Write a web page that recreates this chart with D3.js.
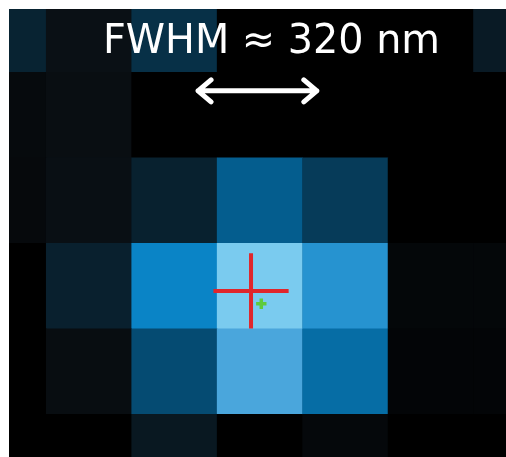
<!DOCTYPE html>
<html>
<head>
<meta charset="utf-8">
<script src="https://cdn.jsdelivr.net/npm/d3@7"></script>
<style>
  body { margin: 0; background: #fff; }
</style>
</head>
<body>
<div id="psf"></div>
<script>
// pixel intensities of the camera image (rows top to bottom, cols left to right)
const rows = [0, 1, 2, 3, 4, 5];
const cols = [0, 1, 2, 3, 4, 5, 6];
const intensity = [
  [0.18, 0.08, 0.25, 0, 0, 0, 0.135],
  [0.05, 0.07, 0, 0, 0, 0, 0],
  [0.045, 0.075, 0.17, 0.45, 0.3, 0, 0],
  [0, 0.165, 0.62, 1.0, 0.7, 0.035, 0.035],
  [0, 0.065, 0.37, 0.8, 0.52, 0.025, 0.025],
  [0, 0, 0.12, 0, 0.04, 0, 0]
];
// fitted centre (red) and centroid (green), in pixel units
const fitCentre = [3.40, 3.56];
const centroid = [3.52, 3.71];
// FWHM arrow span in pixel units
const fwhmSpan = [2.78, 4.17];
const label = "FWHM \u2248 320 nm";

const width = 506, height = 457;
const margin = { top: 9, left: 9 };

const svg = d3.select("#psf")
  .append("svg")
  .attr("width", width)
  .attr("height", height);

// image area clip
svg.append("clipPath").attr("id", "img")
  .append("rect")
  .attr("x", margin.left).attr("y", margin.top)
  .attr("width", width - margin.left).attr("height", height - margin.top);

// soft glow for the white annotations
const glow = svg.append("filter").attr("id", "glow");
glow.append("feGaussianBlur").attr("stdDeviation", 0.6);

const g = svg.append("g").attr("clip-path", "url(#img)");

// x / y in pixel units
const x = d3.scaleLinear().domain([0, cols.length]).range([-39.5, -39.5 + 85.45 * cols.length]);
const y = d3.scaleLinear().domain([0, rows.length]).range([-13.5, -13.5 + 85.5 * rows.length]);

const color = d3.scaleLinear()
  .domain([0, 0.08, 0.25, 0.45, 0.62, 0.8, 1])
  .range(["#000000", "#0a1015", "#073047", "#045d8e", "#0a84c6", "#4aa6dc", "#7acbef"])
  .interpolate(d3.interpolateRgb);

const cells = [];
rows.forEach(r => cols.forEach(c => cells.push({ r, c, v: intensity[r][c] })));

g.append("rect")
  .attr("x", margin.left).attr("y", margin.top)
  .attr("width", width).attr("height", height)
  .attr("fill", "#000");

g.selectAll("rect.cell")
  .data(cells)
  .enter()
  .append("rect")
  .attr("class", "cell")
  .attr("x", d => x(d.c))
  .attr("y", d => y(d.r))
  .attr("width", d => x(d.c + 1) - x(d.c) + 0.5)
  .attr("height", d => y(d.r + 1) - y(d.r) + 0.5)
  .attr("fill", d => color(d.v));

// red cross
const arm = 0.44;
g.append("path")
  .attr("d", `M${x(fitCentre[0] - arm)},${y(fitCentre[1])}H${x(fitCentre[0] + arm)}` +
             `M${x(fitCentre[0])},${y(fitCentre[1] - arm)}V${y(fitCentre[1] + arm)}`)
  .attr("stroke", "#e0262b")
  .attr("stroke-width", 4)
  .attr("fill", "none");

// green marker
g.append("path")
  .attr("d", d3.symbol().type(d3.symbolCross).size(60)())
  .attr("transform", `translate(${x(centroid[0])},${y(centroid[1])})`)
  .attr("fill", "#5ecb3c");

// FWHM arrow
const ay = y(1.22), ax0 = x(fwhmSpan[0]), ax1 = x(fwhmSpan[1]);
g.append("path")
  .attr("d", `M${ax0},${ay}H${ax1}` +
             `M${ax0 + 13},${ay - 11}L${ax0},${ay}L${ax0 + 13},${ay + 11}` +
             `M${ax1 - 13},${ay - 11}L${ax1},${ay}L${ax1 - 13},${ay + 11}`)
  .attr("stroke", "#fff")
  .attr("stroke-width", 5)
  .attr("stroke-linecap", "round")
  .attr("stroke-linejoin", "round")
  .attr("fill", "none")
  .attr("filter", "url(#glow)");

g.append("text")
  .attr("x", 271.5)
  .attr("y", 53)
  .attr("text-anchor", "middle")
  .attr("font-family", "DejaVu Sans")
  .attr("font-size", 41)
  .attr("textLength", 337)
  .attr("lengthAdjust", "spacingAndGlyphs")
  .attr("fill", "#fff")
  .attr("filter", "url(#glow)")
  .text(label);
</script>
</body>
</html>
